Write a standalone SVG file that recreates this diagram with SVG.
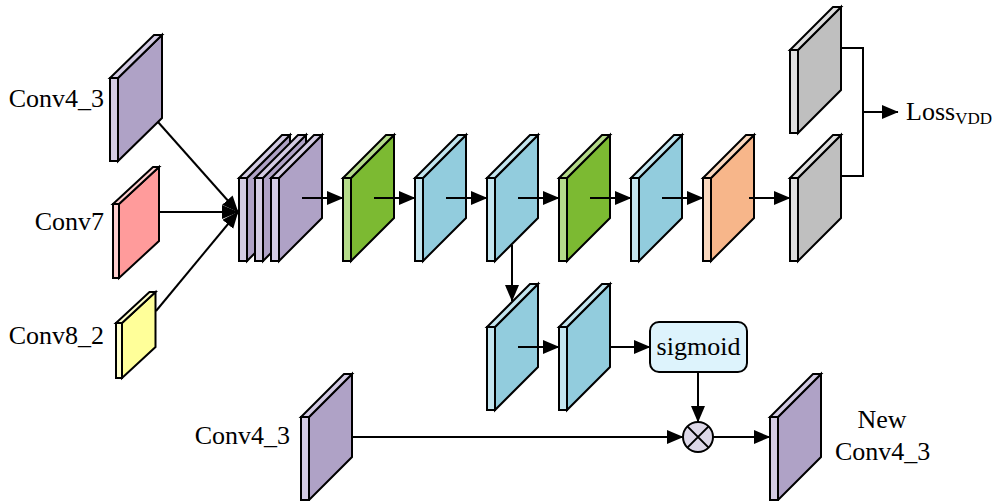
<svg xmlns="http://www.w3.org/2000/svg" width="999" height="501" viewBox="0 0 999 501">
  <defs>
    <style>
      .f, .s { stroke: #000; stroke-width: 2; stroke-linejoin: miter; }
      .purple .f { fill: #AFA2C6; } .purple .s { fill: #D3CBE3; }
      .pink .f { fill: #FF9B9B; }   .pink .s { fill: #FFCFCF; }
      .yellow .f { fill: #FFFF99; } .yellow .s { fill: #FFFFCC; }
      .green .f { fill: #7CBA32; }  .green .s { fill: #B5DB8A; }
      .blue .f { fill: #92CCDD; }   .blue .s { fill: #C3E5EF; }
      .orange .f { fill: #F7B68A; } .orange .s { fill: #FAD8BE; }
      .gray .f { fill: #BFBFBF; }   .gray .s { fill: #DEDEDE; }
      .lbl { font-family: "Liberation Serif", "Times New Roman", serif; font-size: 26px; fill: #000; }
      .sub { font-size: 17px; }
      .wire { fill: none; stroke: #000; stroke-width: 2; }
      .arr { marker-end: url(#head); }
    </style>
    <marker id="head" markerUnits="userSpaceOnUse" markerWidth="18" markerHeight="15" refX="16" refY="7" orient="auto">
      <path d="M0,0 L16.5,7 L0,14 z" fill="#000"/>
    </marker>
  </defs>

  <rect width="999" height="501" fill="#fff"/>

  <!-- connectors (drawn under the slabs) -->
  <g id="connectors">
    <line class="wire arr" x1="158" y1="122" x2="238" y2="212"/>
    <line class="wire arr" x1="159" y1="212" x2="238" y2="212"/>
    <line class="wire arr" x1="156" y1="311" x2="238" y2="212"/>
    <line class="wire arr" x1="512" y1="245" x2="512" y2="301"/>
    <polyline class="wire" points="841,48 863,48 863,176 841,176"/>
    <line class="wire arr" x1="863" y1="112" x2="898" y2="112"/>
    <line class="wire arr" x1="610" y1="347" x2="650" y2="347"/>
    <line class="wire arr" x1="698" y1="372" x2="698" y2="422"/>
    <line class="wire arr" x1="352" y1="437" x2="683" y2="437"/>
    <line class="wire arr" x1="713" y1="437" x2="770" y2="437"/>
  </g>

  <!-- input feature maps -->
  <g id="in-conv4_3" class="purple">
    <polygon class="f" points="118,78 162,35 162,118 118,161"/>
    <polygon class="s" points="110,78 118,78 162,35 154,35"/>
    <rect class="s" x="110" y="78" width="8" height="83"/>
    <text class="lbl" x="104" y="107" text-anchor="end">Conv4_3</text>
  </g>
  <g id="in-conv7" class="pink">
    <polygon class="f" points="119,204 159,167 159,241 119,278"/>
    <polygon class="s" points="113,204 119,204 159,167 153,167"/>
    <rect class="s" x="113" y="204" width="6" height="74"/>
    <text class="lbl" x="104" y="230" text-anchor="end">Conv7</text>
  </g>
  <g id="in-conv8_2" class="yellow">
    <polygon class="f" points="122,323 155.5,292 155.5,347 122,378"/>
    <polygon class="s" points="116,323 122,323 155.5,292 149.5,292"/>
    <rect class="s" x="116" y="323" width="6" height="55"/>
    <text class="lbl" x="104" y="344" text-anchor="end">Conv8_2</text>
  </g>

  <!-- each slab: front edge at its origin, 8 wide, 83 tall, face receding 43 up-right -->
  <g id="concat" class="purple">
    <g transform="translate(239,178)">
      <polygon class="f" points="8,0 51,-43 51,40 8,83"/>
      <polygon class="s" points="0,0 8,0 51,-43 43,-43"/>
      <rect class="s" width="8" height="83"/>
    </g>
    <g transform="translate(255,178)">
      <polygon class="f" points="8,0 51,-43 51,40 8,83"/>
      <polygon class="s" points="0,0 8,0 51,-43 43,-43"/>
      <rect class="s" width="8" height="83"/>
    </g>
    <g transform="translate(271,178)">
      <polygon class="f" points="8,0 51,-43 51,40 8,83"/>
      <polygon class="s" points="0,0 8,0 51,-43 43,-43"/>
      <rect class="s" width="8" height="83"/>
    </g>
  </g>

  <g id="green-1" class="green" transform="translate(343,178)">
    <polygon class="f" points="8,0 51,-43 51,40 8,83"/>
    <polygon class="s" points="0,0 8,0 51,-43 43,-43"/>
    <rect class="s" width="8" height="83"/>
  </g>
  <g id="blue-1" class="blue" transform="translate(415,178)">
    <polygon class="f" points="8,0 51,-43 51,40 8,83"/>
    <polygon class="s" points="0,0 8,0 51,-43 43,-43"/>
    <rect class="s" width="8" height="83"/>
  </g>
  <g id="blue-2" class="blue" transform="translate(487,178)">
    <polygon class="f" points="8,0 51,-43 51,40 8,83"/>
    <polygon class="s" points="0,0 8,0 51,-43 43,-43"/>
    <rect class="s" width="8" height="83"/>
  </g>
  <g id="green-2" class="green" transform="translate(559,178)">
    <polygon class="f" points="8,0 51,-43 51,40 8,83"/>
    <polygon class="s" points="0,0 8,0 51,-43 43,-43"/>
    <rect class="s" width="8" height="83"/>
  </g>
  <g id="blue-3" class="blue" transform="translate(631,178)">
    <polygon class="f" points="8,0 51,-43 51,40 8,83"/>
    <polygon class="s" points="0,0 8,0 51,-43 43,-43"/>
    <rect class="s" width="8" height="83"/>
  </g>
  <g id="orange-1" class="orange" transform="translate(703,178)">
    <polygon class="f" points="8,0 51,-43 51,40 8,83"/>
    <polygon class="s" points="0,0 8,0 51,-43 43,-43"/>
    <rect class="s" width="8" height="83"/>
  </g>
  <g id="gray-top" class="gray" transform="translate(790,50)">
    <polygon class="f" points="8,0 51,-43 51,40 8,83"/>
    <polygon class="s" points="0,0 8,0 51,-43 43,-43"/>
    <rect class="s" width="8" height="83"/>
  </g>
  <g id="gray-bottom" class="gray" transform="translate(790,178)">
    <polygon class="f" points="8,0 51,-43 51,40 8,83"/>
    <polygon class="s" points="0,0 8,0 51,-43 43,-43"/>
    <rect class="s" width="8" height="83"/>
  </g>

  <g id="blue-4" class="blue" transform="translate(487,327)">
    <polygon class="f" points="8,0 51,-43 51,40 8,83"/>
    <polygon class="s" points="0,0 8,0 51,-43 43,-43"/>
    <rect class="s" width="8" height="83"/>
  </g>
  <g id="blue-5" class="blue" transform="translate(559,327)">
    <polygon class="f" points="8,0 51,-43 51,40 8,83"/>
    <polygon class="s" points="0,0 8,0 51,-43 43,-43"/>
    <rect class="s" width="8" height="83"/>
  </g>

  <g id="base-conv4_3" class="purple">
    <g transform="translate(301,417)">
      <polygon class="f" points="8,0 51,-43 51,40 8,83"/>
      <polygon class="s" points="0,0 8,0 51,-43 43,-43"/>
      <rect class="s" width="8" height="83"/>
    </g>
    <text class="lbl" x="290" y="444" text-anchor="end">Conv4_3</text>
  </g>
  <g id="new-conv4_3" class="purple">
    <g transform="translate(770,417)">
      <polygon class="f" points="8,0 51,-43 51,40 8,83"/>
      <polygon class="s" points="0,0 8,0 51,-43 43,-43"/>
      <rect class="s" width="8" height="83"/>
    </g>
    <text class="lbl" x="882" y="428" text-anchor="middle">New</text>
    <text class="lbl" x="835" y="460">Conv4_3</text>
  </g>

  <!-- arrows drawn across the slab faces along the main path -->
  <g id="flow-arrows">
    <line class="wire arr" x1="302" y1="198" x2="343" y2="198"/>
    <line class="wire arr" x1="374" y1="198" x2="415" y2="198"/>
    <line class="wire arr" x1="446" y1="198" x2="487" y2="198"/>
    <line class="wire arr" x1="518" y1="198" x2="559" y2="198"/>
    <line class="wire arr" x1="590" y1="198" x2="631" y2="198"/>
    <line class="wire arr" x1="662" y1="198" x2="703" y2="198"/>
    <line class="wire arr" x1="749" y1="198" x2="790" y2="198"/>
    <line class="wire arr" x1="518" y1="347" x2="559" y2="347"/>
  </g>

  <g id="sigmoid">
    <rect x="650" y="322" width="97" height="50" rx="9" fill="#DDF3FC" stroke="#000" stroke-width="2"/>
    <text class="lbl" x="698.5" y="355" text-anchor="middle">sigmoid</text>
  </g>

  <g id="multiply">
    <circle cx="698" cy="437" r="15" fill="#DDD8E8" stroke="#000" stroke-width="2"/>
    <path d="M687.4,426.4 L708.6,447.6 M708.6,426.4 L687.4,447.6" stroke="#000" stroke-width="2"/>
  </g>

  <g id="loss">
    <text class="lbl" x="906" y="120">Loss<tspan class="sub" dy="4">VDD</tspan></text>
  </g>
</svg>
